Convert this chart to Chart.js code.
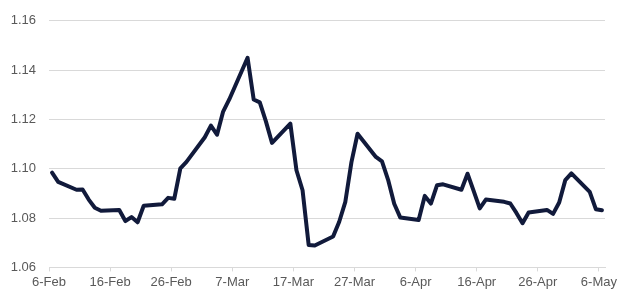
<!DOCTYPE html>
<html>
<head>
<meta charset="utf-8">
<script src="https://cdn.jsdelivr.net/npm/chart.js@4/dist/chart.umd.min.js"></script>
<style>
  html, body { margin: 0; padding: 0; background: #fff; }
  #wrap { width: 624px; height: 300px; }
</style>
</head>
<body>
<div id="wrap"><canvas id="rateChart"></canvas></div>
<script>
var startDate = '2020-02-06';

var dates = [
	'2020-02-06','2020-02-07','2020-02-10','2020-02-11','2020-02-12','2020-02-13','2020-02-14',
	'2020-02-17','2020-02-18','2020-02-19','2020-02-20','2020-02-21',
	'2020-02-24','2020-02-25','2020-02-26','2020-02-27','2020-02-28',
	'2020-03-02','2020-03-03','2020-03-04','2020-03-05','2020-03-06',
	'2020-03-09','2020-03-10','2020-03-11','2020-03-12','2020-03-13',
	'2020-03-16','2020-03-17','2020-03-18','2020-03-19','2020-03-20',
	'2020-03-23','2020-03-24','2020-03-25','2020-03-26','2020-03-27',
	'2020-03-30','2020-03-31','2020-04-01','2020-04-02','2020-04-03',
	'2020-04-06','2020-04-07','2020-04-08','2020-04-09','2020-04-10',
	'2020-04-13','2020-04-14','2020-04-15','2020-04-16','2020-04-17',
	'2020-04-20','2020-04-21','2020-04-22','2020-04-23','2020-04-24',
	'2020-04-27','2020-04-28','2020-04-29','2020-04-30','2020-05-01',
	'2020-05-04','2020-05-05','2020-05-06'
];

var rates = [
	1.0984, 1.0947, 1.0915, 1.0916, 1.0875, 1.0842, 1.0830,
	1.0833, 1.0788, 1.0804, 1.0783, 1.0850,
	1.0856, 1.0882, 1.0878, 1.1002, 1.1028,
	1.1128, 1.1175, 1.1138, 1.1232, 1.1281,
	1.1450, 1.1281, 1.1269, 1.1192, 1.1105,
	1.1183, 1.0994, 1.0913, 1.0691, 1.0689,
	1.0725, 1.0785, 1.0866, 1.1027, 1.1142,
	1.1048, 1.1030, 1.0955, 1.0858, 1.0802,
	1.0792, 1.0890, 1.0859, 1.0933, 1.0937,
	1.0915, 1.0980, 1.0910, 1.0839, 1.0875,
	1.0866, 1.0859, 1.0821, 1.0779, 1.0823,
	1.0833, 1.0817, 1.0863, 1.0954, 1.0981,
	1.0906, 1.0836, 1.0832
];

var tickLabels = ['6-Feb','16-Feb','26-Feb','7-Mar','17-Mar','27-Mar','6-Apr','16-Apr','26-Apr','6-May'];
var yTicks = [1.06, 1.08, 1.10, 1.12, 1.14, 1.16];

var monthNames = ['Jan','Feb','Mar','Apr','May','Jun','Jul','Aug','Sep','Oct','Nov','Dec'];
var DAY = 86400000;

function isoToDay(s){
	var p = s.split('-');
	var t = Date.UTC(+p[0], +p[1] - 1, +p[2]);
	var s0 = startDate.split('-');
	return Math.round((t - Date.UTC(+s0[0], +s0[1] - 1, +s0[2])) / DAY);
}

function labelToDay(lbl){
	var p = lbl.split('-');
	var m = monthNames.indexOf(p[1]) + 1;
	return isoToDay('2020-' + (m < 10 ? '0' : '') + m + '-' + (p[0].length < 2 ? '0' : '') + p[0]);
}

// excel date axis puts each day's point in the middle of the day
function buildPoints(){
	return dates.map(function(d, i){
		return { x: isoToDay(d) + 0.5, y: rates[i] };
	});
}

var tickDays = tickLabels.map(labelToDay);
var lastDay = isoToDay(dates[dates.length - 1]) + 1;

var ctx = document.getElementById('rateChart');
new Chart(ctx, {
	type: 'line',
	data: {
		datasets: [{
			data: buildPoints(),
			borderColor: '#111a3b',
			borderWidth: 4,
			pointRadius: 0,
			tension: 0,
			borderJoinStyle: 'round',
			borderCapStyle: 'round',
			clip: false
		}]
	},
	options: {
		responsive: true,
		maintainAspectRatio: false,
		animation: false,
		layout: { padding: { left: 0, right: 19, top: 15, bottom: 7 } },
		plugins: {
			legend: { display: false },
			tooltip: { enabled: false }
		},
		scales: {
			x: {
				type: 'linear',
				min: 0,
				max: lastDay,
				afterBuildTicks: function(scale){
					scale.ticks = tickDays.map(function(v){ return { value: v }; });
				},
				grid: {
					drawOnChartArea: false,
					drawTicks: true,
					tickLength: 4,
					color: '#d9d9d9'
				},
				border: { display: true, color: '#d9d9d9' },
				ticks: {
					autoSkip: false,
					maxRotation: 0,
					padding: 3,
					color: '#595959',
					font: { family: 'Liberation Sans', size: 13 },
					callback: function(v){
						var i = tickDays.indexOf(v);
						return i >= 0 ? tickLabels[i] : '';
					}
				}
			},
			y: {
				min: yTicks[0],
				max: yTicks[yTicks.length - 1],
				afterBuildTicks: function(scale){
					scale.ticks = yTicks.map(function(v){ return { value: v }; });
				},
				afterFit: function(scale){
					scale.width = 49;
				},
				grid: {
					color: '#d9d9d9',
					drawTicks: false
				},
				border: { display: false },
				ticks: {
					padding: 13,
					color: '#595959',
					font: { family: 'Liberation Sans', size: 13 },
					callback: function(v){ return v.toFixed(2); }
				}
			}
		}
	}
});
</script>
</body>
</html>
